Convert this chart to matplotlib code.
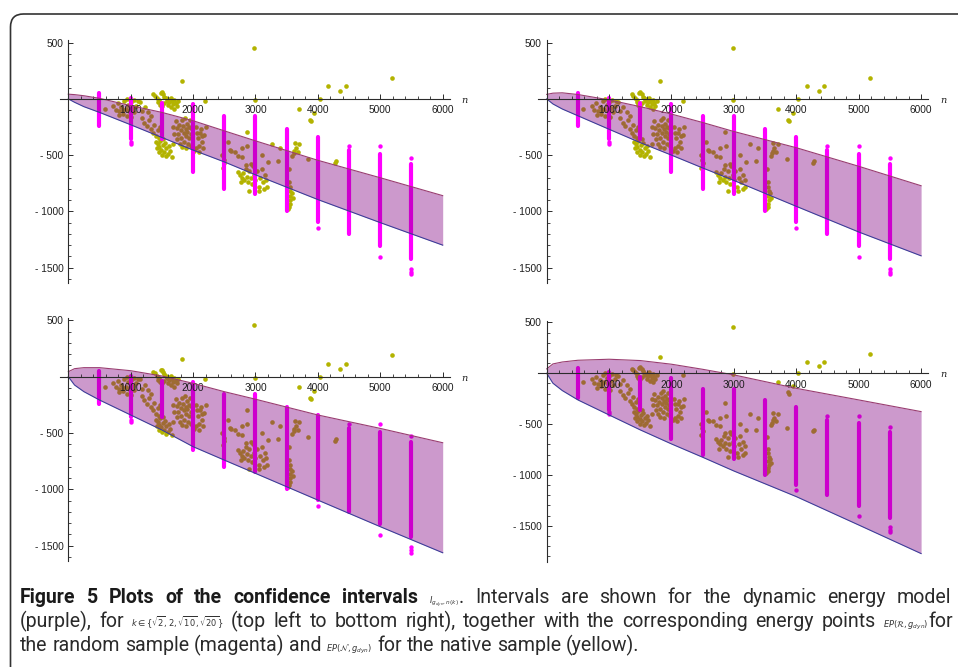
import matplotlib
matplotlib.use("Agg")
import matplotlib.pyplot as plt
from matplotlib import font_manager
from matplotlib.path import Path
from matplotlib.patches import PathPatch
from matplotlib.ticker import FixedLocator, MultipleLocator

# ---------------- data ----------------
band_n = [0, 100, 250, 500, 1000, 1500, 2000, 2500, 3000, 4000, 5000, 6000]

upper_tl = [42, 38, 28, 5, -60, -120, -194, -284, -373, -546, -701, -860]
lower_tl = [0, -30, -69, -120, -230, -343, -455, -560, -675, -895, -1100, -1300]

upper_tr = [40, 51, 54, 39, -9, -69, -135, -210, -290, -434, -599, -772]
lower_tr = [0, -45, -90, -150, -270, -389, -500, -614, -725, -955, -1183, -1395]

upper_bl = [44, 71, 80, 80, 53, 6, -59, -133, -200, -340, -459, -586]
lower_bl = [0, -74, -133, -207, -340, -473, -621, -740, -858, -1095, -1331, -1562]

upper_br = [43, 92, 111, 128, 138, 125, 89, 39, -16, -148, -262, -377]
lower_br = [0, -98, -170, -262, -410, -557, -695, -826, -961, -1213, -1492, -1773]

# random sample (magenta): dense stripes and isolated points
random_n = [500, 1000, 1500, 2000, 2500, 3000, 3500, 4000, 4500, 5000, 5500]
random_hi = [50, 10, -40, -45, -150, -155, -265, -336, -455, -490, -580]
random_lo = [-245, -360, -360, -650, -800, -845, -1000, -1095, -1200, -1305, -1425]
random_out_n = [1000, 1000, 4000, 4500, 5000, 5000, 5500, 5500, 5500, 5500]
random_out_e = [-385, -398, -1145, -419, -419, -1408, -528, -1510, -1540, -1560]

# native sample (yellow)
native_n = [
    588, 720, 760, 790, 820, 850, 870, 900, 920, 940, 960, 980, 1000, 1010, 1030,
    1060, 1090, 1110, 1150, 1180, 1230, 880, 810, 940, 1050,
    1360, 1390, 1420, 1450, 1480, 1500, 1520, 1540, 1560, 1580, 1600, 1620, 1640,
    1660, 1680, 1700, 1720, 1740, 1760, 1440, 1470, 1500, 1530, 1600, 1650, 1700,
    1180, 1220, 1260, 1300, 1330, 1360, 1380, 1400, 1430, 1450, 1470, 1330, 1280,
    1400, 1430, 1450, 1470, 1490, 1510, 1530, 1550, 1570, 1590, 1610, 1630, 1660,
    1680, 1450, 1500, 1420, 1560, 1520,
    1720, 1740, 1760, 1780, 1800, 1810, 1830, 1840, 1850, 1860, 1870, 1880, 1890,
    1900, 1910, 1920, 1930, 1940, 1950, 1960, 1970, 1790, 1750, 1820, 1880, 1960,
    1700, 1680,
    2040, 2060, 2080, 2100, 2120, 2140, 2160, 2050, 2020, 2110, 2180, 2200, 2090, 2150,
    1816, 2190, 2981, 2991, 5182, 4167, 4359, 4444, 4035, 3700, 3870, 3885, 3940,
    2470, 2490, 2500, 2480, 2560, 2590, 2600, 2670, 2720, 2780, 2780, 2860, 2870,
    2720, 2750, 2780, 2800, 2820, 2840, 2860, 2880, 2900, 2920, 2940, 2960, 2980,
    3000, 3020, 3050, 3080, 3100, 3120, 3150, 3170, 3140, 3180, 2850, 2930, 2760,
    2900, 3060,
    3100, 3260, 3390, 3360, 3200,
    3530, 3540, 3550, 3560, 3545, 3560, 3550, 3540, 3520, 3580, 3600, 3610, 3630,
    3650, 3620, 3590, 3700, 3680,
    3846, 4274, 4290,
]
native_e = [
    -90, -60, -95, -40, -110, -70, -130, -20, -90, -150, -50, -110, -30, -160, -80,
    -120, -60, -20, -25, -110, -70, -100, -140, 0, -10,
    45, 30, 10, -10, 55, 60, 40, 20, 5, -15, -5, -30, 10,
    -20, -45, -10, -35, -60, -20, -30, -50, -60, -40, -55, -75, -90,
    -170, -210, -240, -190, -270, -300, -230, -330, -280, -350, -250, -150, -120,
    -380, -400, -430, -370, -450, -410, -470, -390, -440, -490, -420, -460, -520,
    -400, -470, -495, -440, -510, -360,
    -200, -260, -310, -230, -280, -350, -190, -240, -300, -380, -170, -270, -330,
    -220, -290, -400, -250, -350, -190, -310, -420, -400, -360, -430, -440, -260,
    -310, -250,
    -250, -300, -350, -420, -270, -380, -440, -440, -460, -300, -320, -250, -470, -330,
    159, -20, 455, -10, 189, 114, 72, 114, -2, -90, -185, -200, -128,
    -500, -540, -570, -610, -380, -455, -465, -470, -510, -440, -515, -295, -420,
    -650, -680, -700, -660, -720, -620, -690, -740, -640, -700, -760, -600, -680,
    -720, -640, -780, -700, -620, -740, -680, -720, -800, -780, -590, -580, -740,
    -820, -820,
    -500, -405, -435, -555, -560,
    -625, -740, -780, -820, -860, -900, -930, -960, -980, -840, -880, -485, -395,
    -440, -460, -510, -400, -470,
    -537, -572, -553,
]

x_major = [1000, 2000, 3000, 4000, 5000, 6000]
x_labels = ["1000", "2000", "3000", "4000", "5000", "6000"]
y_major = [500, -500, -1000, -1500]
y_labels = ["500", "- 500", "- 1000", "- 1500"]

# ---------------- figure ----------------
W, H = 958, 667
fig = plt.figure(figsize=(W / 100, H / 100), dpi=100)
plt.rcParams["font.family"] = ["Liberation Sans", "DejaVu Sans"]

YELLOW = "#b3b300"
MAGENTA = "#ff00ff"
FILL = (0.5, 0.0, 0.5)
UPPER_C = "#993d71"
LOWER_C = "#3d3d99"
AXC = "#2b2b2b"

panels = [
    dict(left=60.0, top=40.4, bottom=282.6, ylim=(-1633, 520), up=upper_tl, lo=lower_tl),
    dict(left=538.4, top=40.4, bottom=282.6, ylim=(-1633, 520), up=upper_tr, lo=lower_tr),
    dict(left=60.0, top=318.4, bottom=561.2, ylim=(-1637, 517), up=upper_bl, lo=lower_bl),
    dict(left=538.4, top=320.7, bottom=561.7, ylim=(-1853, 517), up=upper_br, lo=lower_br),
]

for p in panels:
    ax = fig.add_axes([p["left"] / W, 1 - p["bottom"] / H, 390 / W,
                       (p["bottom"] - p["top"]) / H])
    ax.set_xlim(-133, 6117)
    ax.set_ylim(*p["ylim"])
    ax.patch.set_alpha(0)
    for s in ("top", "right"):
        ax.spines[s].set_visible(False)
    for s in ("left", "bottom"):
        ax.spines[s].set_position(("data", 0))
        ax.spines[s].set_color(AXC)
        ax.spines[s].set_linewidth(0.8)

    ax.scatter(native_n, native_e, s=11, color=YELLOW, linewidths=0, zorder=1.0)
    vl = ax.vlines(random_n, random_lo, random_hi, colors=MAGENTA, linewidths=3.0,
                   zorder=1.1)
    vl.set_capstyle("round")
    ax.scatter(random_out_n, random_out_e, s=10, color=MAGENTA, linewidths=0, zorder=1.1)

    ax.fill_between(band_n, p["lo"], p["up"], color=FILL, alpha=0.4, linewidth=0,
                    zorder=1.5)
    ax.plot(band_n, p["up"], color=UPPER_C, lw=0.8, zorder=1.6)
    ax.plot(band_n, p["lo"], color=LOWER_C, lw=0.8, zorder=1.6)

    ax.xaxis.set_major_locator(FixedLocator(x_major))
    ax.xaxis.set_minor_locator(MultipleLocator(200))
    ax.set_xticklabels(x_labels)
    ax.yaxis.set_major_locator(FixedLocator(y_major))
    ax.yaxis.set_minor_locator(MultipleLocator(100))
    ax.set_yticklabels(y_labels)
    ax.tick_params(which="major", direction="in", length=3.5, width=0.7, color=AXC,
                   labelsize=7.3, labelcolor="#1e1e1e")
    ax.tick_params(which="minor", direction="in", length=2.0, width=0.6, color=AXC)
    ax.tick_params(axis="x", which="major", pad=4.5)
    ax.tick_params(axis="y", which="major", pad=3.5)
    ax.text(6300, -15, "n", fontstyle="italic", family="DejaVu Serif", fontsize=7,
            ha="left", va="center", color="#222222", clip_on=False)

# ---------------- frame (rounded corner) ----------------
r = 13
x0, y0 = 10.5, 14.0
verts = [(x0, H), (x0, y0 + r), (x0, y0), (x0 + r, y0), (W, y0)]
codes = [Path.MOVETO, Path.LINETO, Path.CURVE3, Path.CURVE3, Path.LINETO]
verts_fig = [(vx / W, 1 - vy / H) for vx, vy in verts]
frame = PathPatch(Path(verts_fig, codes), fill=False, edgecolor="#333333", lw=1.2,
                  transform=fig.transFigure)
fig.patches.append(frame)

# ---------------- caption ----------------
renderer = fig.canvas.get_renderer()
installed = {f.name for f in font_manager.fontManager.ttflist}
CAP_FONT = [f for f in ["Liberation Sans Narrow", "Roboto", "Open Sans", "DejaVu Sans"]
            if f in installed] or ["DejaVu Sans"]


def style_kw(st, size):
    if st == "b":
        return dict(fontsize=size, fontweight="bold", family=CAP_FONT, color="#1a1a1a")
    if st == "m":
        return dict(fontsize=size * 0.42, family=CAP_FONT, color="#333333")
    return dict(fontsize=size, family=CAP_FONT, color="#2a2a2a")


def text_w(txt, st, size):
    t = fig.text(0, 0, txt, **style_kw(st, size))
    w = t.get_window_extent(renderer).width
    t.remove()
    return w


def group_width(group, size):
    return sum(text_w(txt, st, size) for txt, st in group)


def space_w(size):
    return text_w("a a", "r", size) - text_w("aa", "r", size)


def natural_width(groups, size):
    return sum(group_width(g, size) for g in groups) + space_w(size) * (len(groups) - 1)


def draw_line(groups, x_start, baseline, size, target=None):
    widths = [group_width(g, size) for g in groups]
    sp = space_w(size)
    if target is not None and len(groups) > 1:
        sp = max((target - x_start - sum(widths)) / (len(groups) - 1), sp * 0.6)
    x = x_start
    for g, gw in zip(groups, widths):
        xx = x
        for txt, st in g:
            t = fig.text(xx / W, 1 - baseline / H, txt, ha="left", va="baseline",
                         **style_kw(st, size))
            xx += t.get_window_extent(renderer).width
        x += gw + sp


def words(s, st="r"):
    return [[(w, st)] for w in s.split()]


MATH_I = r"$I_{g_{dyn},n(k)}$"
MATH_K = r"$k\in\{\sqrt{2},2,\sqrt{10},\sqrt{20}\}$"
MATH_R = r"$EP(\mathcal{R},g_{dyn})$"
MATH_N = r"$EP(\mathcal{N},g_{dyn})$"

line1 = (words("Figure 5 Plots of the confidence intervals", "b")
         + [[(MATH_I, "m"), (".", "r")]]
         + words("Intervals are shown for the dynamic energy model"))
line2 = (words("(purple), for") + [[(MATH_K, "m")]]
         + words("(top left to bottom right), together with the corresponding energy points")
         + [[(MATH_R, "m"), ("for", "r")]])
line3 = (words("the random sample (magenta) and") + [[(MATH_N, "m")]]
         + words("for the native sample (yellow)."))

# caption size: lines 1-2 are justified to the frame width with near-normal spacing
probe = 10.0
w2 = natural_width(line2, probe)
w1 = natural_width(line1, probe)
cap_size = probe * 900 / max(w1, w2)

draw_line(line1, 20, 603, cap_size, target=951)
draw_line(line2, 20, 627, cap_size, target=953)
draw_line(line3, 20, 651, cap_size)

fig.savefig("out.png", dpi=100)
